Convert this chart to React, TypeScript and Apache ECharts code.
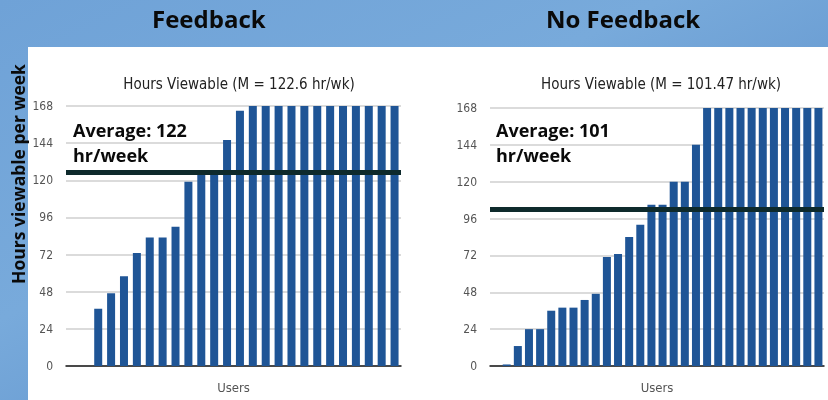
import React, { useEffect, useRef } from "react";
import * as echarts from "echarts";

const headers = ["Feedback", "No Feedback"];
const chartTitles = ["Hours Viewable (M = 122.6 hr/wk)", "Hours Viewable (M = 101.47 hr/wk)"];
const yAxisTitle = "Hours viewable per week";
const xAxisName = "Users";
const yTicks = [0, 24, 48, 72, 96, 120, 144, 168];

const feedbackValues = [0, 0, 37, 47, 58, 73, 83, 83, 90, 119, 125, 125, 146, 165,
  168, 168, 168, 168, 168, 168, 168, 168, 168, 168, 168, 168];
const noFeedbackValues = [0, 1, 13, 24, 24, 36, 38, 38, 43, 47, 71, 73, 84, 92, 105, 105,
  120, 120, 144, 168, 168, 168, 168, 168, 168, 168, 168, 168, 168, 168];
const averageLines = [125, 102];
const averageLabels = ["Average: 122\nhr/week", "Average: 101\nhr/week"];

const BAR = "#1f5596";
const NARROW = "'Liberation Sans Narrow', 'DejaVu Sans Condensed', Arial, sans-serif";
const BOLD = "'Open Sans', Calibri, sans-serif";

export default function App() {
  const ref = useRef<HTMLDivElement>(null);
  useEffect(() => {
    if (!ref.current) return;
    const chart = echarts.init(ref.current, undefined, { renderer: "svg" });
    const cats1 = feedbackValues.map((_, i) => "U" + (i + 1));
    const cats2 = noFeedbackValues.map((_, i) => "U" + (i + 1));
    const grids = [
      { left: 66, right: 427, top: 106, bottom: 34, outerBoundsMode: "none", containLabel: false },
      { left: 490, right: 4, top: 108, bottom: 34, outerBoundsMode: "none", containLabel: false },
    ];
    const xAxis = [cats1, cats2].map((c, i) => ({
      type: "category",
      gridIndex: i,
      data: c,
      boundaryGap: true,
      axisLine: { show: true, lineStyle: { color: "#1a1a1a", width: 1.5 } },
      axisTick: { show: false },
      axisLabel: { show: false },
      name: xAxisName,
      nameLocation: "middle",
      nameGap: 15,
      nameTextStyle: { color: "#555", fontSize: 13, fontFamily: NARROW },
    }));
    const yAxis = [0, 1].map((i) => ({
      type: "value",
      gridIndex: i,
      min: yTicks[0],
      max: yTicks[yTicks.length - 1],
      interval: yTicks[1] - yTicks[0],
      axisLine: { show: false },
      axisTick: { show: false },
      axisLabel: { color: "#555", fontSize: 12, fontFamily: NARROW, margin: 13 },
      splitLine: { show: true, lineStyle: { color: "#cfcfcf", width: 1.5 } },
    }));
    const series = [feedbackValues, noFeedbackValues].map((vals, i) => ({
      type: "bar",
      xAxisIndex: i,
      yAxisIndex: i,
      data: vals,
      barWidth: 8,
      itemStyle: { color: BAR },
      markLine: {
        silent: true,
        symbol: "none",
        label: { show: false },
        lineStyle: { color: "#0e2a2c", width: 5, type: "solid" },
        data: [{ yAxis: averageLines[i] }],
      },
    }));
    chart.setOption({
      animation: false,
      grid: grids,
      xAxis,
      yAxis,
      series,
      title: [
        {
          text: chartTitles[0], left: 234, top: 71, textAlign: "center",
          textStyle: { fontSize: 15, fontWeight: "normal", color: "#222", fontFamily: NARROW },
        },
        {
          text: chartTitles[1], left: 656, top: 71, textAlign: "center",
          textStyle: { fontSize: 15, fontWeight: "normal", color: "#222", fontFamily: NARROW },
        },
      ],
      graphic: [
        {
          type: "rect", z: -10, silent: true,
          shape: { x: 0, y: 0, width: 828, height: 400 },
          style: {
            fill: new echarts.graphic.LinearGradient(0, 0, 1, 1, [
              { offset: 0, color: "#6fa2d7" },
              { offset: 0.4, color: "#78aadb" },
              { offset: 0.7, color: "#6497cf" },
              { offset: 1, color: "#7ea4d0" },
            ]),
          },
        },
        {
          type: "rect", z: -9, silent: true,
          shape: { x: 28, y: 47, width: 800, height: 353 },
          style: { fill: "#ffffff" },
        },
        {
          type: "text", silent: true, left: 152, top: 6,
          style: { text: headers[0], font: "bold 24px " + BOLD, fill: "#0a0a0a" },
        },
        {
          type: "text", silent: true, left: 546, top: 6,
          style: { text: headers[1], font: "bold 24px " + BOLD, fill: "#0a0a0a" },
        },
        {
          type: "text", silent: true, x: 18, y: 174, rotation: Math.PI / 2,
          style: {
            text: yAxisTitle, font: "bold 17.5px " + BOLD, fill: "#0a0a0a",
            align: "center", verticalAlign: "middle",
          },
        },
        {
          type: "text", silent: true, left: 73, top: 117,
          style: { text: averageLabels[0], font: "bold 18px " + BOLD, fill: "#0a0a0a", lineHeight: 25 },
        },
        {
          type: "text", silent: true, left: 496, top: 117,
          style: { text: averageLabels[1], font: "bold 18px " + BOLD, fill: "#0a0a0a", lineHeight: 25 },
        },
      ],
    });
    return () => chart.dispose();
  }, []);
  return (
    <div
      ref={ref}
      style={{ position: "fixed", left: 0, top: 0, width: 828, height: 400 }}
    />
  );
}
